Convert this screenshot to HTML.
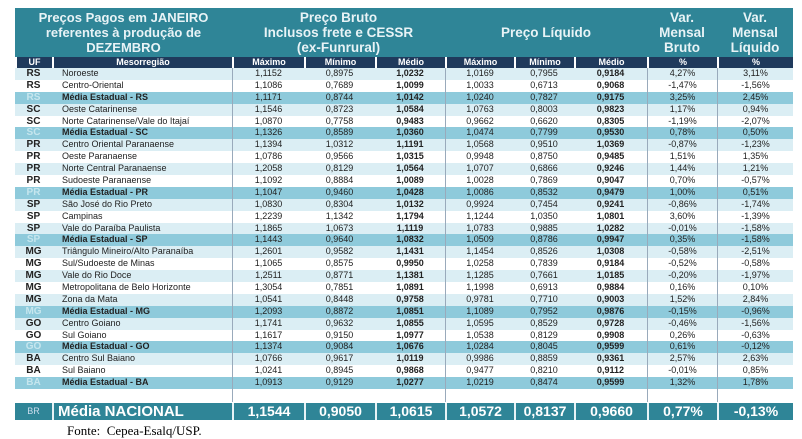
<!DOCTYPE html><html><head><meta charset="utf-8"><style>
body{margin:0;width:802px;height:439px;background:#fff;overflow:hidden;font-family:"Liberation Sans",sans-serif;}
#t{position:absolute;left:15px;top:8px;width:778px;}
.r{display:flex;height:11.9px;line-height:11.9px;font-size:9px;color:#222;}
.r>div{flex:none;text-align:center;white-space:nowrap;overflow:hidden;box-sizing:border-box}
.r>div:nth-child(1){width:37px;font-weight:bold;font-size:10px}
.r>div:nth-child(2){width:180px;text-align:left;padding-left:10px}
.r>div:nth-child(3){width:72px;border-left:1px solid #9ab}
.r>div:nth-child(4){width:71px}
.r>div:nth-child(5){width:70px;font-weight:bold}
.r>div:nth-child(6){width:69px;border-left:1px solid #9ab}
.r>div:nth-child(7){width:60px}
.r>div:nth-child(8){width:73px;font-weight:bold}
.r>div:nth-child(9){width:70px;border-left:1px solid #9ab}
.r>div:nth-child(10){width:76px;border-left:1px solid #9ab}
.a{background:#dbeef4}.w{background:#fff}
.m{background:#8ecadb}.m>div:nth-child(2){font-weight:bold}.m>div:nth-child(1){color:#c6e6ee}
.h{display:flex;height:49px;background:#2f8597;color:#e8f3f6;font-weight:bold;}
.h>div{display:flex;align-items:center;justify-content:center;text-align:center;font-size:13.5px;line-height:15px}
.h .c1{width:217px;font-size:13px}
.s{background:#1f3a5c;color:#fff;font-weight:bold;height:11px;line-height:11px}
.s>div{border-left:2px solid #fff !important;font-size:9px !important}
.s>div:nth-child(2){text-align:center;padding-left:0}
.b{height:13px;background:#fff}
.br{background:#2f8597;color:#fff;font-weight:bold;height:17px;line-height:17px;font-size:14px;margin-top:1px}
.br>div{border-left:2px solid #e8f3f6 !important;font-weight:bold}
.br>div:nth-child(1){font-size:9px;font-weight:normal;color:#cde;border-left:none !important}
.br>div:nth-child(2){font-size:15px;padding-left:4px}
.f{position:absolute;left:67px;top:423px;font-family:"Liberation Serif",serif;font-size:13px;}
</style></head><body>
<div id="t">
<div class="h"><div class="c1">Preços Pagos em JANEIRO<br>referentes à produção de<br>DEZEMBRO</div><div style="width:213px">Preço Bruto<br>Inclusos frete e CESSR<br>(ex-Funrural)</div><div style="width:202px">Preço Líquido</div><div style="width:70px">Var.<br>Mensal<br>Bruto</div><div style="width:76px">Var.<br>Mensal<br>Líquido</div></div>
<div class="r s"><div>UF</div><div>Mesorregião</div><div>Máximo</div><div>Mínimo</div><div>Médio</div><div>Máximo</div><div>Mínimo</div><div>Médio</div><div>%</div><div>%</div></div>
<div class="r a"><div>RS</div><div>Noroeste</div><div>1,1152</div><div>0,8975</div><div>1,0232</div><div>1,0169</div><div>0,7955</div><div>0,9184</div><div>4,27%</div><div>3,11%</div></div>
<div class="r w"><div>RS</div><div>Centro-Oriental</div><div>1,1086</div><div>0,7689</div><div>1,0099</div><div>1,0033</div><div>0,6713</div><div>0,9068</div><div>-1,47%</div><div>-1,56%</div></div>
<div class="r m"><div>RS</div><div>Média Estadual - RS</div><div>1,1171</div><div>0,8744</div><div>1,0142</div><div>1,0240</div><div>0,7827</div><div>0,9175</div><div>3,25%</div><div>2,45%</div></div>
<div class="r a"><div>SC</div><div>Oeste Catarinense</div><div>1,1546</div><div>0,8723</div><div>1,0584</div><div>1,0763</div><div>0,8003</div><div>0,9823</div><div>1,17%</div><div>0,94%</div></div>
<div class="r w"><div>SC</div><div>Norte Catarinense/Vale do Itajaí</div><div>1,0870</div><div>0,7758</div><div>0,9483</div><div>0,9662</div><div>0,6620</div><div>0,8305</div><div>-1,19%</div><div>-2,07%</div></div>
<div class="r m"><div>SC</div><div>Média Estadual - SC</div><div>1,1326</div><div>0,8589</div><div>1,0360</div><div>1,0474</div><div>0,7799</div><div>0,9530</div><div>0,78%</div><div>0,50%</div></div>
<div class="r a"><div>PR</div><div>Centro Oriental Paranaense</div><div>1,1394</div><div>1,0312</div><div>1,1191</div><div>1,0568</div><div>0,9510</div><div>1,0369</div><div>-0,87%</div><div>-1,23%</div></div>
<div class="r w"><div>PR</div><div>Oeste Paranaense</div><div>1,0786</div><div>0,9566</div><div>1,0315</div><div>0,9948</div><div>0,8750</div><div>0,9485</div><div>1,51%</div><div>1,35%</div></div>
<div class="r a"><div>PR</div><div>Norte Central Paranaense</div><div>1,2058</div><div>0,8129</div><div>1,0564</div><div>1,0707</div><div>0,6866</div><div>0,9246</div><div>1,44%</div><div>1,21%</div></div>
<div class="r w"><div>PR</div><div>Sudoeste Paranaense</div><div>1,1092</div><div>0,8884</div><div>1,0089</div><div>1,0028</div><div>0,7869</div><div>0,9047</div><div>0,70%</div><div>-0,57%</div></div>
<div class="r m"><div>PR</div><div>Média Estadual - PR</div><div>1,1047</div><div>0,9460</div><div>1,0428</div><div>1,0086</div><div>0,8532</div><div>0,9479</div><div>1,00%</div><div>0,51%</div></div>
<div class="r a"><div>SP</div><div>São José do Rio Preto</div><div>1,0830</div><div>0,8304</div><div>1,0132</div><div>0,9924</div><div>0,7454</div><div>0,9241</div><div>-0,86%</div><div>-1,74%</div></div>
<div class="r w"><div>SP</div><div>Campinas</div><div>1,2239</div><div>1,1342</div><div>1,1794</div><div>1,1244</div><div>1,0350</div><div>1,0801</div><div>3,60%</div><div>-1,39%</div></div>
<div class="r a"><div>SP</div><div>Vale do Paraíba Paulista</div><div>1,1865</div><div>1,0673</div><div>1,1119</div><div>1,0783</div><div>0,9885</div><div>1,0282</div><div>-0,01%</div><div>-1,58%</div></div>
<div class="r m"><div>SP</div><div>Média Estadual - SP</div><div>1,1443</div><div>0,9640</div><div>1,0832</div><div>1,0509</div><div>0,8786</div><div>0,9947</div><div>0,35%</div><div>-1,58%</div></div>
<div class="r a"><div>MG</div><div>Triângulo Mineiro/Alto Paranaíba</div><div>1,2601</div><div>0,9582</div><div>1,1431</div><div>1,1454</div><div>0,8526</div><div>1,0308</div><div>-0,58%</div><div>-2,51%</div></div>
<div class="r w"><div>MG</div><div>Sul/Sudoeste de Minas</div><div>1,1065</div><div>0,8575</div><div>0,9950</div><div>1,0258</div><div>0,7839</div><div>0,9184</div><div>-0,52%</div><div>-0,58%</div></div>
<div class="r a"><div>MG</div><div>Vale do Rio Doce</div><div>1,2511</div><div>0,8771</div><div>1,1381</div><div>1,1285</div><div>0,7661</div><div>1,0185</div><div>-0,20%</div><div>-1,97%</div></div>
<div class="r w"><div>MG</div><div>Metropolitana de Belo Horizonte</div><div>1,3054</div><div>0,7851</div><div>1,0891</div><div>1,1998</div><div>0,6913</div><div>0,9884</div><div>0,16%</div><div>0,10%</div></div>
<div class="r a"><div>MG</div><div>Zona da Mata</div><div>1,0541</div><div>0,8448</div><div>0,9758</div><div>0,9781</div><div>0,7710</div><div>0,9003</div><div>1,52%</div><div>2,84%</div></div>
<div class="r m"><div>MG</div><div>Média Estadual - MG</div><div>1,2093</div><div>0,8872</div><div>1,0851</div><div>1,1089</div><div>0,7952</div><div>0,9876</div><div>-0,15%</div><div>-0,96%</div></div>
<div class="r a"><div>GO</div><div>Centro Goiano</div><div>1,1741</div><div>0,9632</div><div>1,0855</div><div>1,0595</div><div>0,8529</div><div>0,9728</div><div>-0,46%</div><div>-1,56%</div></div>
<div class="r w"><div>GO</div><div>Sul Goiano</div><div>1,1617</div><div>0,9150</div><div>1,0977</div><div>1,0538</div><div>0,8129</div><div>0,9908</div><div>0,26%</div><div>-0,63%</div></div>
<div class="r m"><div>GO</div><div>Média Estadual - GO</div><div>1,1374</div><div>0,9084</div><div>1,0676</div><div>1,0284</div><div>0,8045</div><div>0,9599</div><div>0,61%</div><div>-0,12%</div></div>
<div class="r a"><div>BA</div><div>Centro Sul Baiano</div><div>1,0766</div><div>0,9617</div><div>1,0119</div><div>0,9986</div><div>0,8859</div><div>0,9361</div><div>2,57%</div><div>2,63%</div></div>
<div class="r w"><div>BA</div><div>Sul Baiano</div><div>1,0241</div><div>0,8945</div><div>0,9868</div><div>0,9477</div><div>0,8210</div><div>0,9112</div><div>-0,01%</div><div>0,85%</div></div>
<div class="r m"><div>BA</div><div>Média Estadual - BA</div><div>1,0913</div><div>0,9129</div><div>1,0277</div><div>1,0219</div><div>0,8474</div><div>0,9599</div><div>1,32%</div><div>1,78%</div></div>
<div class="r b"><div></div><div></div><div></div><div></div><div></div><div></div><div></div><div></div><div></div><div></div></div>
<div class="r br"><div>BR</div><div>Média NACIONAL</div><div>1,1544</div><div>0,9050</div><div>1,0615</div><div>1,0572</div><div>0,8137</div><div>0,9660</div><div>0,77%</div><div>-0,13%</div></div>
</div>
<div class="f">Fonte:&nbsp; Cepea-Esalq/USP.</div>
</body></html>
